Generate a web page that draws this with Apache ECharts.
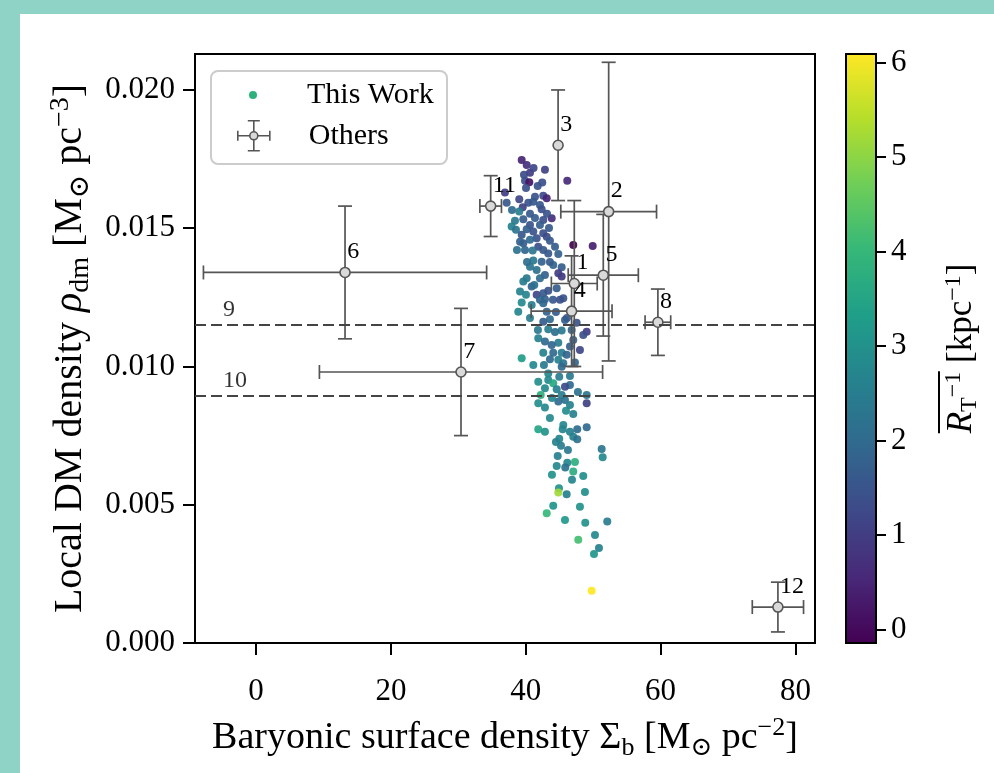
<!DOCTYPE html>
<html><head><meta charset="utf-8">
<script src="https://cdn.jsdelivr.net/npm/echarts@6/dist/echarts.min.js"></script>
<style>
html,body{margin:0;padding:0;background:#fff;overflow:hidden;}
#lstrip{position:absolute;left:0;top:0;width:20px;height:773px;background:#8ed3c5;}
#tstrip{position:absolute;left:0;top:0;width:994px;height:14px;background:#8ed3c5;}
#chart{position:absolute;left:0;top:0;width:994px;height:773px;}
</style></head><body>
<div id="lstrip"></div><div id="tstrip"></div><div id="chart"></div>
<script>
// ---- "This Work" points: Sigma_b, rho_dm, R_T^-1 ----
const twX = [39.40,40.14,40.63,39.74,39.89,40.53,42.45,46.16,40.04,36.92,41.37,42.60,43.11,39.04,37.17,40.38,41.12,42.11,39.55,42.36,
39.04,40.63,43.85,42.60,39.64,38.40,37.91,40.63,42.11,38.55,40.14,39.40,41.12,42.60,43.11,41.62,40.63,43.59,39.64,39.15,
41.86,44.34,42.60,47.05,49.93,43.34,44.83,41.03,41.12,42.36,44.08,45.33,40.63,41.62,42.85,42.11,45.33,40.14,44.83,39.64,
40.88,39.15,40.04,41.62,42.60,43.34,44.59,45.57,42.85,39.40,40.88,42.60,38.89,43.11,42.60,43.59,45.82,47.55,43.34,45.33,
46.81,49.04,48.53,41.86,42.85,44.83,47.05,43.85,46.56,48.04,42.60,44.08,45.33,46.07,39.40,43.59,44.83,45.57,41.12,45.33,
47.30,43.34,44.97,46.56,41.86,43.34,44.08,46.56,45.82,44.59,42.85,42.22,45.33,49.04,41.86,42.85,44.83,45.82,46.56,49.04,
45.97,47.05,41.86,42.85,45.57,45.48,46.56,47.64,49.04,47.05,47.64,44.97,45.23,51.26,51.41,44.74,46.16,47.30,44.59,45.86,
47.05,48.53,44.93,44.83,46.07,44.08,43.11,48.04,48.83,52.09,47.79,50.27,50.86,50.12,49.78,
41.16,41.77,37.96,43.15,41.37,43.45,39.89,43.59,41.27,44.04,40.63,44.48,41.81,44.34,46.11,42.70,43.89,47.74,43.59,44.48,
46.26,43.89,46.86,48.78,45.82,42.11,40.19,42.85,38.70,45.08];
const twY = [0.01747,0.01729,0.01701,0.01693,0.01672,0.01666,0.01665,0.01672,0.01645,0.01629,0.01614,0.01617,0.01608,0.01605,0.01592,0.01592,0.01596,0.01584,0.01576,0.01569,
0.01560,0.01552,0.01536,0.01530,0.01532,0.01527,0.01506,0.01512,0.01512,0.01494,0.01496,0.01476,0.01488,0.01482,0.01469,0.01464,0.01458,0.01455,0.01446,0.01451,
0.01433,0.01433,0.01421,0.01439,0.01436,0.01409,0.01407,0.01419,0.01383,0.01379,0.01367,0.01359,0.01361,0.01349,0.01331,0.01319,0.01325,0.01319,0.01337,0.01307,
0.01289,0.01271,0.01259,0.01259,0.01265,0.01274,0.01283,0.01247,0.01243,0.01231,0.01222,0.01229,0.01198,0.01198,0.01162,0.01171,0.01168,0.01158,0.01135,0.01130,
0.01132,0.01126,0.01114,0.01102,0.01090,0.01086,0.01096,0.01078,0.01072,0.01060,0.01050,0.01050,0.01050,0.01042,0.01030,0.01026,0.01024,0.01012,0.01005,0.00999,
0.01014,0.00975,0.00963,0.00966,0.00945,0.00951,0.00939,0.00933,0.00927,0.00918,0.00921,0.00897,0.00897,0.00897,0.00867,0.00852,0.00873,0.00879,0.00861,0.00867,
0.00840,0.00828,0.00773,0.00764,0.00788,0.00773,0.00764,0.00773,0.00780,0.00746,0.00737,0.00739,0.00713,0.00702,0.00672,0.00676,0.00652,0.00655,0.00640,0.00635,
0.00620,0.00604,0.00560,0.00544,0.00538,0.00496,0.00469,0.00493,0.00435,0.00439,0.00373,0.00391,0.00344,0.00322,0.00189,
0.01718,0.01653,0.01566,0.01552,0.01537,0.01501,0.01421,0.01378,0.01295,0.01241,0.01175,0.01197,0.01132,0.01125,0.01175,0.01005,0.00886,0.00908,0.00814,0.00727,
0.00698,0.00608,0.00590,0.00546,0.00445,0.01241,0.01378,0.01711,0.01421,0.01241];
const twC = [0.5,0.7,1.0,1.3,1.4,0.2,1.4,0.6,1.4,1.0,1.5,1.3,0.5,1.2,1.6,1.5,1.6,1.6,1.1,1.4,
2.5,1.6,0.7,1.4,1.7,2.4,2.6,1.5,1.7,2.3,1.8,1.6,1.5,1.4,1.3,1.5,2.0,1.6,1.7,1.8,
1.4,1.7,1.6,-0.14,0.4,1.6,1.8,2.3,2.4,1.8,1.9,1.7,2.3,2.2,1.8,2.0,0.9,2.4,1.0,2.5,
1.8,2.6,2.7,1.2,1.6,1.5,1.7,1.5,1.8,2.8,2.6,1.9,2.7,1.8,1.7,2.0,1.8,1.5,2.5,2.4,
1.9,1.0,1.4,2.6,2.0,2.5,1.8,1.9,1.7,1.2,2.6,2.0,2.5,1.9,3.3,2.0,2.6,2.3,2.8,2.0,
1.9,2.7,2.5,2.4,2.9,2.8,3.6,2.0,1.3,2.6,2.8,3.8,2.5,2.3,2.9,2.8,2.0,2.2,2.6,1.1,
2.9,2.6,3.5,3.0,2.8,2.7,2.6,2.1,2.0,2.6,2.2,2.7,2.5,2.3,2.8,2.6,2.7,3.8,2.8,2.2,
3.7,2.9,3.0,5.2,2.6,3.1,4.0,3.0,3.0,2.5,4.2,2.8,2.6,3.1,6.09,
1.2,1.5,2.0,1.5,1.7,1.6,1.9,1.7,2.2,1.6,2.5,1.7,2.4,2.1,1.6,2.4,2.7,2.2,2.8,2.6,
2.4,3.0,2.7,2.9,3.2,1.9,2.1,1.1,2.2,1.4];

// ---- "Others" (literature values) ----
const refNames = ['1','2','3','4','5','6','7','8','11','12'];
const refX     = [47.2, 52.3, 44.8, 46.8, 51.5, 13.2, 30.4, 59.6, 34.8, 77.4];
const refY     = [0.0130,0.0156,0.0180,0.0120,0.0133,0.0134,0.0098,0.0116,0.0158,0.0013];
const refXerr  = [3.4, 7.1, 0, 6.0, 5.2, 21.0, 21.0, 1.9, 1.6, 3.8];
const refYerr  = [0.0030,0.0054,0.0020,0.0020,0.0022,0.0024,0.0023,0.0012,0.0011,0.0009];
// horizontal reference values (9, 10)
const lineNames = ['9','10'];
const lineY     = [0.0115, 0.00893];
const lineLabelX = [-4.9, -4.9];

// ---- axes ----
const xTicks = [0,20,40,60,80];
const yTicks = [0,0.005,0.010,0.015,0.020];
const cTicks = [0,1,2,3,4,5,6];
const xRange = [-9.05, 82.9];
const yRange = [0, 0.0213];
const cRange = [-0.14, 6.09];
const viridis = ['#440154','#482878','#3e4989','#31688e','#26828e','#1f9e89','#35b779','#6ece58','#b5de2b','#fde725'];

const FONT = "'Liberation Serif','DejaVu Serif',serif";
const chart = echarts.init(document.getElementById('chart'), null, {renderer:'canvas'});

const errData = refX.map((x,i)=>[x, refY[i], refXerr[i], refYerr[i]]);
const CAP = 7;
function renderErr(params, api){
  const x = api.value(0), y = api.value(1), xe = api.value(2), ye = api.value(3);
  const st = {stroke:'#555555', lineWidth:1.7};
  const ch = [];
  if (xe > 0){
    const l = api.coord([x-xe, y]), r = api.coord([x+xe, y]);
    ch.push({type:'line', shape:{x1:l[0],y1:l[1],x2:r[0],y2:r[1]}, style:st});
    ch.push({type:'line', shape:{x1:l[0],y1:l[1]-CAP,x2:l[0],y2:l[1]+CAP}, style:st});
    ch.push({type:'line', shape:{x1:r[0],y1:r[1]-CAP,x2:r[0],y2:r[1]+CAP}, style:st});
  }
  if (ye > 0){
    const b = api.coord([x, y-ye]), t = api.coord([x, y+ye]);
    ch.push({type:'line', shape:{x1:b[0],y1:b[1],x2:t[0],y2:t[1]}, style:st});
    ch.push({type:'line', shape:{x1:b[0]-CAP,y1:b[1],x2:b[0]+CAP,y2:b[1]}, style:st});
    ch.push({type:'line', shape:{x1:t[0]-CAP,y1:t[1],x2:t[0]+CAP,y2:t[1]}, style:st});
  }
  return {type:'group', children:ch};
}

const errIcon = 'path://M0,10 L0,20 M0,15 L12,15 M20,15 L32,15 M32,10 L32,20 M10,0 L22,0 M16,0 L16,11 M16,19 L16,30 M10,30 L22,30 M20,15 A4,4 0 1,1 12,15 A4,4 0 1,1 20,15 Z';
const dotIcon = 'path://M8,4 A4,4 0 1,1 0,4 A4,4 0 1,1 8,4 Z';

const option = {
  animation:false,
  grid:[
    {left:195, top:54, width:620, height:589, show:true, borderColor:'#000', borderWidth:2, backgroundColor:'transparent', z:1},
    {left:846, top:54, width:30, height:589, show:true, borderColor:'#000', borderWidth:2, backgroundColor:'transparent', z:10}
  ],
  xAxis:[
    {type:'value', gridIndex:0, min:xRange[0], max:xRange[1],
     axisLine:{show:false, onZero:false}, splitLine:{show:false},
     axisTick:{show:true, customValues:xTicks, length:12, lineStyle:{color:'#000', width:2}},
     axisLabel:{customValues:xTicks, fontFamily:FONT, fontSize:31, color:'#000', margin:33, formatter:v=>String(Math.round(v))},
     name:'Baryonic surface density Σ{sub|b} [M{sub|⊙} pc{sup|−2}]', nameLocation:'middle', nameGap:72,
     nameTextStyle:{fontFamily:FONT, fontSize:38, color:'#000', lineHeight:46,
       rich:{sub:{fontFamily:FONT, fontSize:26, lineHeight:26, verticalAlign:'bottom', color:'#000'},
             sup:{fontFamily:FONT, fontSize:26, lineHeight:26, verticalAlign:'top', color:'#000'}}}},
    {type:'value', gridIndex:1, min:0, max:1, show:false}
  ],
  yAxis:[
    {type:'value', gridIndex:0, min:yRange[0], max:yRange[1],
     axisLine:{show:false, onZero:false}, splitLine:{show:false},
     axisTick:{show:true, customValues:yTicks, length:12, lineStyle:{color:'#000', width:2}},
     axisLabel:{customValues:yTicks, fontFamily:FONT, fontSize:31, color:'#000', margin:20, formatter:v=>v.toFixed(3)},
     name:'Local DM density {it|ρ}{sub|dm} [M{sub|⊙} pc{sup|−3}]', nameLocation:'middle', nameGap:90, nameRotate:90,
     nameTextStyle:{fontFamily:FONT, fontSize:40, color:'#000', lineHeight:48,
       rich:{it:{fontFamily:FONT, fontSize:40, fontStyle:'italic', color:'#000'},
             sub:{fontFamily:FONT, fontSize:28, lineHeight:28, verticalAlign:'bottom', color:'#000'},
             sup:{fontFamily:FONT, fontSize:28, lineHeight:28, verticalAlign:'top', color:'#000'}}}},
    {type:'value', gridIndex:1, min:cRange[0], max:cRange[1], position:'right',
     axisLine:{show:false, onZero:false}, splitLine:{show:false},
     axisTick:{show:true, customValues:cTicks, length:10, lineStyle:{color:'#000', width:2}},
     axisLabel:{customValues:cTicks, fontFamily:FONT, fontSize:31, color:'#000', margin:15, formatter:v=>String(Math.round(v))},
     name:'{ovl| }\n{it|R}{sub|T}{sup|−1} [kpc{sup|−1}]', nameLocation:'middle', nameGap:60, nameRotate:90,
     nameTextStyle:{fontFamily:FONT, fontSize:35, color:'#000', lineHeight:40,
       rich:{ovl:{width:62, height:2, lineHeight:6, fontSize:2, backgroundColor:'#000', align:'left'},
             it:{fontFamily:FONT, fontSize:35, fontStyle:'italic', color:'#000'},
             sub:{fontFamily:FONT, fontSize:24, lineHeight:24, verticalAlign:'bottom', color:'#000'},
             sup:{fontFamily:FONT, fontSize:24, lineHeight:24, verticalAlign:'top', color:'#000'}}}}
  ],
  visualMap:{
    type:'continuous', seriesIndex:0, dimension:2, min:cRange[0], max:cRange[1],
    inRange:{color:viridis}, left:846, top:54, itemWidth:30, itemHeight:589, padding:0,
    text:null, showLabel:false, calculable:false, hoverLink:false, orient:'vertical', z:5
  },
  legend:[
    {data:[{name:'This Work', icon:dotIcon, itemStyle:{color:'#2db27d', borderWidth:0, opacity:1}}],
     left:249, top:80, padding:0, itemWidth:8, itemHeight:8, selectedMode:false, z:20,
     textStyle:{fontFamily:FONT, fontSize:30, color:'#000', padding:[0,0,0,45]}},
    {data:[{name:'Others', icon:errIcon, itemStyle:{color:'#d9d9d9', borderColor:'#555555', borderWidth:1.6}}],
     left:237, top:120, padding:0, itemWidth:32, itemHeight:30, selectedMode:false, z:20,
     textStyle:{fontFamily:FONT, fontSize:30, color:'#000', padding:[0,0,0,34]}}
  ],
  graphic:[
    {type:'rect', left:210, top:70, z:15, shape:{width:236, height:93, r:7},
     style:{fill:'rgba(255,255,255,0.85)', stroke:'#cccccc', lineWidth:2}}
  ],
  series:[
    {name:'This Work', type:'scatter', xAxisIndex:0, yAxisIndex:0, symbolSize:8,
     data: twX.map((x,i)=>[x, twY[i], twC[i]]), itemStyle:{opacity:0.92}, z:2, silent:true},
    {name:'errbars', type:'custom', xAxisIndex:0, yAxisIndex:0, renderItem:renderErr,
     data: errData, encode:{x:0, y:1}, z:3, silent:true},
    {name:'Others', type:'scatter', xAxisIndex:0, yAxisIndex:0, symbol:'circle', symbolSize:10,
     data: refX.map((x,i)=>({name:refNames[i], value:[x, refY[i]]})),
     itemStyle:{color:'#d9d9d9', borderColor:'#555555', borderWidth:1.6, opacity:1}, z:4, silent:true,
     label:{show:true, formatter:'{b}', position:[8,-3], align:'left', verticalAlign:'bottom',
            fontFamily:FONT, fontSize:24, color:'#000'}},
    {name:'refLines', type:'scatter', xAxisIndex:0, yAxisIndex:0, symbolSize:0, silent:true,
     data: lineY.map((y,i)=>({name:lineNames[i], value:[lineLabelX[i], y]})),
     label:{show:true, formatter:'{b}', position:[0,-3], align:'left', verticalAlign:'bottom',
            fontFamily:FONT, fontSize:24, color:'#000'},
     markLine:{silent:true, precision:6, symbol:['none','none'], label:{show:false},
       lineStyle:{type:[11,5], color:'#444444', width:2},
       data: lineY.map(y=>({yAxis:y}))}}
  ]
};
chart.setOption(option);
</script></body></html>
